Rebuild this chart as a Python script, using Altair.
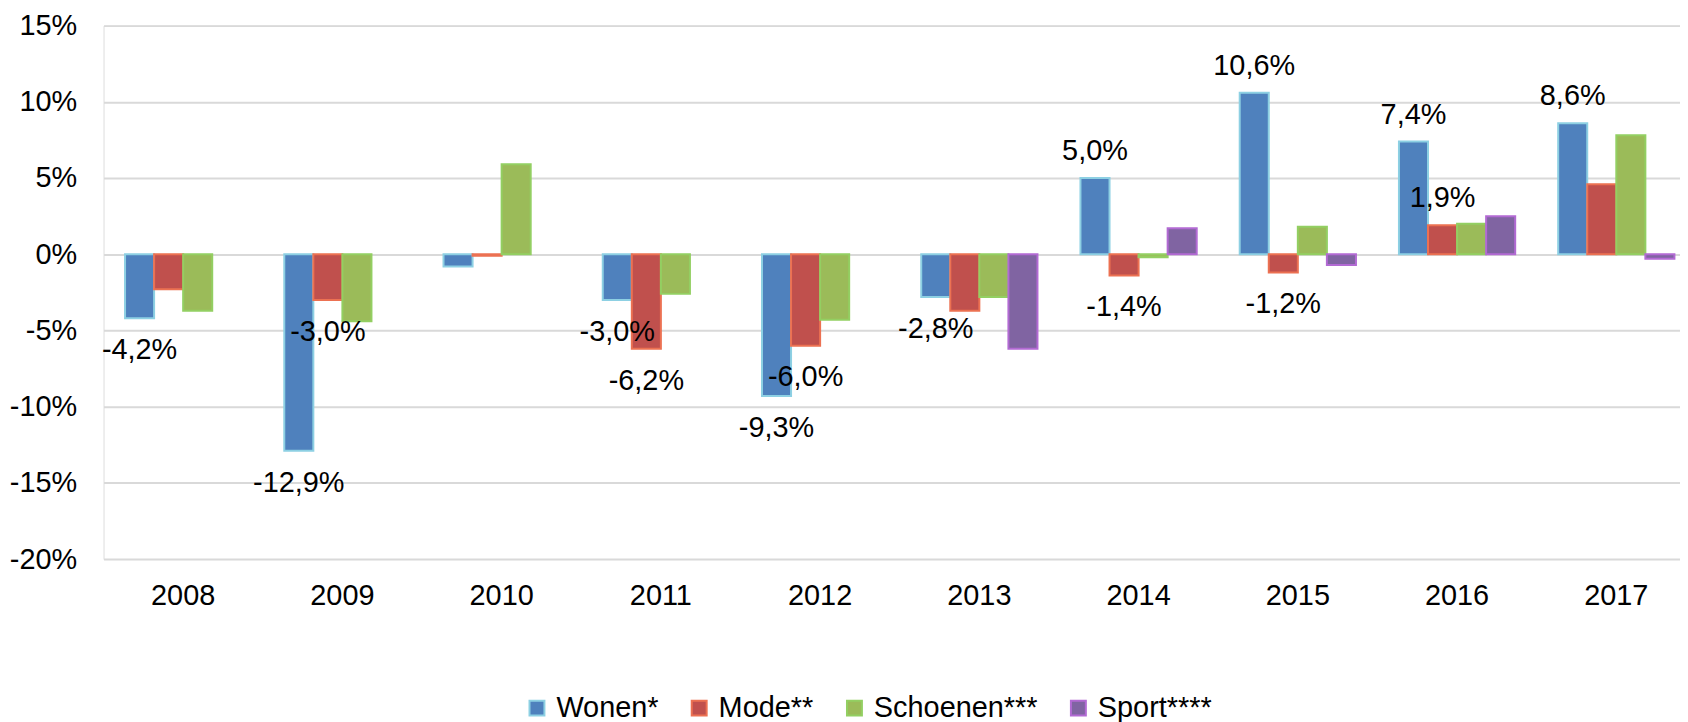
import altair as alt
import pandas as pd

years = ["2008", "2009", "2010", "2011", "2012", "2013", "2014", "2015", "2016", "2017"]
series = ["Wonen*", "Mode**", "Schoenen***", "Sport****"]
wonen = [-4.2, -12.9, -0.8, -3.0, -9.3, -2.8, 5.0, 10.6, 7.4, 8.6]
mode = [-2.3, -3.0, -0.1, -6.2, -6.0, -3.7, -1.4, -1.2, 1.9, 4.6]
schoenen = [-3.7, -4.4, 5.9, -2.6, -4.3, -2.8, -0.2, 1.8, 2.0, 7.8]
sport = [None, None, None, None, None, -6.2, 1.7, -0.7, 2.5, -0.3]
# which values carry a data label in the original
wonen_lbl = [True, True, False, True, True, True, True, True, True, True]
mode_lbl = [False, True, False, True, True, False, True, True, True, False]
schoenen_lbl = [False] * 10
sport_lbl = [False] * 10

fills = ["#4F81BD", "#C0504D", "#9BBB59", "#8064A2"]
strokes = ["#8DD0E3", "#EC7152", "#93CF62", "#B26AD3"]

rows = []
for s, vals, lbls in zip(series, [wonen, mode, schoenen, sport],
                         [wonen_lbl, mode_lbl, schoenen_lbl, sport_lbl]):
    for y, v, l in zip(years, vals, lbls):
        if v is None:
            continue
        rows.append({"year": y, "series": s, "value": v, "show": l,
                     "label": f"{v:.1f}".replace(".", ",") + "%"})
df = pd.DataFrame(rows)

FONT = "Liberation Sans"
FS = 29

x_enc = alt.X("year:N", sort=years, title=None,
              scale=alt.Scale(range=[0, 1600], paddingInner=0.27, paddingOuter=0.135),
              axis=alt.Axis(labelAngle=0, labelFontSize=FS, labelFont=FONT, labelColor="#000",
                            domain=False, ticks=False, tickSize=0, labelPadding=46,
                            labelBaseline="alphabetic", grid=False))
xoff = alt.XOffset("series:N", sort=series, scale=alt.Scale(domain=series, paddingInner=0, paddingOuter=0))
y_enc = alt.Y("value:Q", title=None,
              scale=alt.Scale(domain=[-20, 15], nice=False, zero=True),
              axis=alt.Axis(values=[-20, -15, -10, -5, 0, 5, 10, 15], labelExpr="datum.value + '%'",
                            labelFontSize=FS, labelFont=FONT, labelColor="#000", domain=False,
                            ticks=False, tickSize=0, labelPadding=27, grid=True,
                            gridColor="#D9D9D9", gridWidth=2))

legend = alt.Legend(title=None, orient="none", legendX=421, legendY=671, direction="horizontal",
                    symbolType="square", symbolSize=225, symbolStrokeWidth=2,
                    labelFontSize=FS, labelFont=FONT, labelColor="#000", labelOffset=5,
                    labelLimit=600, columnPadding=26, padding=0, symbolOpacity=1)

bars = alt.Chart(df).mark_bar(strokeWidth=2).encode(
    x=x_enc, xOffset=xoff, y=y_enc,
    fill=alt.Fill("series:N", sort=series, scale=alt.Scale(domain=series, range=fills), legend=legend),
    stroke=alt.Stroke("series:N", sort=series, scale=alt.Scale(domain=series, range=strokes), legend=legend),
)

pos = alt.Chart(df).transform_filter("datum.show && datum.value >= 0").mark_text(
    fontSize=FS, font=FONT, color="#000", align="center", baseline="alphabetic", dy=-18
).encode(x=alt.X("year:N", sort=years), xOffset=alt.XOffset("series:N", sort=series),
         y="value:Q", text="label:N")

neg = alt.Chart(df).transform_filter("datum.show && datum.value < 0").mark_text(
    fontSize=FS, font=FONT, color="#000", align="center", baseline="alphabetic", dy=41
).encode(x=alt.X("year:N", sort=years), xOffset=alt.XOffset("series:N", sort=series),
         y="value:Q", text="label:N")

chart = alt.layer(bars, pos, neg).properties(
    width=1584, height=536,
    autosize=alt.AutoSizeParams(type="none"),
    padding={"left": 96, "top": 16, "right": 0, "bottom": 162},
).configure_view(stroke=None).configure(font=FONT)

chart.save("out.html", embed_options={"renderer": "svg", "actions": False})
